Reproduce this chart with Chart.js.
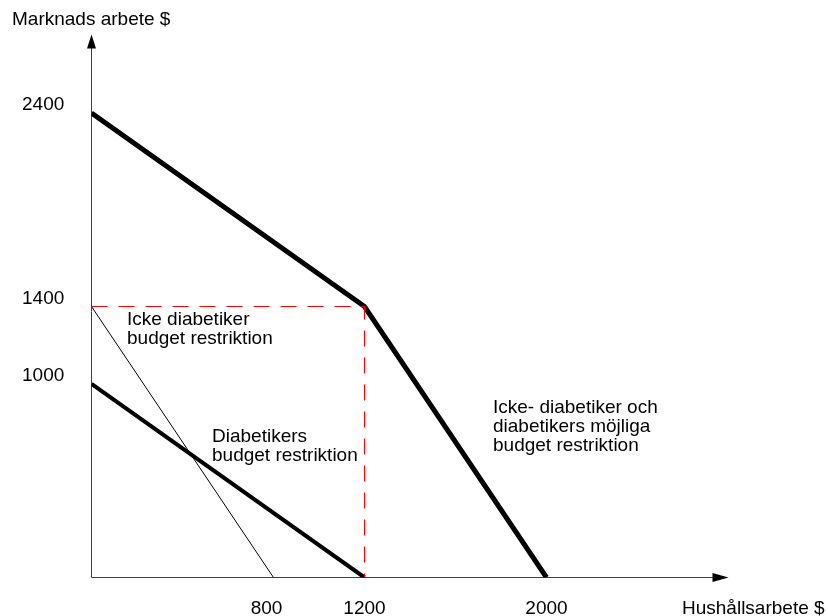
<!DOCTYPE html>
<html>
<head>
<meta charset="utf-8">
<script src="https://cdn.jsdelivr.net/npm/chart.js@4.4.1/dist/chart.umd.min.js"></script>
<style>
  html, body { margin: 0; padding: 0; background: #fff; }
  #wrap { width: 828px; height: 616px; }
</style>
</head>
<body>
<div id="wrap"><canvas id="c" width="828" height="616"></canvas></div>
<script>
// budget lines (hushållsarbete $ on x, marknads arbete $ on y)
var kombineradX = [0, 1200, 2000];
var kombineradY = [2400, 1400, 0];
var diabetikerX = [0, 1200];
var diabetikerY = [1000, 0];
var ickeDiabetikerX = [0, 800];
var ickeDiabetikerY = [1400, 0];
var hjalpX = [0, 1200, 1200];
var hjalpY = [1400, 1400, 0];

var xTicks = [800, 1200, 2000];
var yTicks = [2400, 1400, 1000];

var FONT = '19px "Liberation Sans", Arial, sans-serif';

function punkter(xs, ys) {
    var p = [];
    for (var i = 0; i < xs.length; i++) p.push({ x: xs[i], y: ys[i] });
    return p;
}

function text(ctx, s, x, y, align) {
    ctx.save();
    ctx.font = FONT;
    ctx.fillStyle = '#000';
    ctx.textBaseline = 'middle';
    ctx.textAlign = align || 'left';
    ctx.fillText(s, x, y);
    ctx.restore();
}

var axlar = {
    id: 'axlar',
    beforeDatasetsDraw: function (chart) {
        var ctx = chart.ctx, a = chart.chartArea;
        var x0 = chart.scales.x.getPixelForValue(0);
        var y0 = chart.scales.y.getPixelForValue(0);
        ctx.save();
        ctx.strokeStyle = '#404040';
        ctx.fillStyle = '#000';
        ctx.lineWidth = 1;
        ctx.beginPath();
        ctx.moveTo(x0, y0);
        ctx.lineTo(x0, a.top + 10);
        ctx.moveTo(x0, y0);
        ctx.lineTo(a.right - 12, y0);
        ctx.stroke();
        // pilar
        ctx.beginPath();
        ctx.moveTo(x0, a.top - 1);
        ctx.lineTo(x0 + 4.5, a.top + 13);
        ctx.lineTo(x0 - 4.5, a.top + 13);
        ctx.closePath();
        ctx.fill();
        ctx.beginPath();
        ctx.moveTo(a.right, y0);
        ctx.lineTo(a.right - 16, y0 - 4.5);
        ctx.lineTo(a.right - 16, y0 + 4.5);
        ctx.closePath();
        ctx.fill();
        ctx.restore();
    },
    afterDraw: function (chart) {
        var ctx = chart.ctx;
        var sx = chart.scales.x, sy = chart.scales.y;
        var y0 = sy.getPixelForValue(0);
        xTicks.forEach(function (v) {
            text(ctx, String(v), sx.getPixelForValue(v) - (v === 800 ? 7 : 0), y0 + 31, 'center');
        });
        yTicks.forEach(function (v) {
            text(ctx, String(v), 22, sy.getPixelForValue(v) - 8, 'left');
        });
        text(ctx, 'Marknads arbete $', 12, 20);
        text(ctx, 'Hushållsarbete $', 682, y0 + 31);

        text(ctx, 'Icke diabetiker', 127, 320);
        text(ctx, 'budget restriktion', 127, 339);
        text(ctx, 'Diabetikers', 212, 437);
        text(ctx, 'budget restriktion', 212, 456);
        text(ctx, 'Icke- diabetiker och', 493, 408);
        text(ctx, 'diabetikers möjliga', 493, 427);
        text(ctx, 'budget restriktion', 493, 446);
    }
};

new Chart(document.getElementById('c'), {
    type: 'scatter',
    data: {
        datasets: [
            { data: punkter(hjalpX, hjalpY), borderColor: '#ff0000', borderWidth: 1, borderDash: [16, 11] },
            { data: punkter(ickeDiabetikerX, ickeDiabetikerY), borderColor: '#000', borderWidth: 1 },
            { data: punkter(diabetikerX, diabetikerY), borderColor: '#000', borderWidth: 4 },
            { data: punkter(kombineradX, kombineradY), borderColor: '#000', borderWidth: 5 }
        ]
    },
    options: {
        responsive: false,
        animation: false,
        showLine: true,
        layout: { padding: { left: 91.5, right: 99.5, top: 35.5, bottom: 38.5 } },
        elements: { point: { radius: 0, hoverRadius: 0 }, line: { tension: 0, borderCapStyle: 'butt', borderJoinStyle: 'miter' } },
        scales: {
            x: { type: 'linear', display: false, min: 0, max: 2800 },
            y: { type: 'linear', display: false, min: 0, max: 2800 }
        },
        plugins: { legend: { display: false }, tooltip: { enabled: false } }
    },
    plugins: [axlar]
});
</script>
</body>
</html>
